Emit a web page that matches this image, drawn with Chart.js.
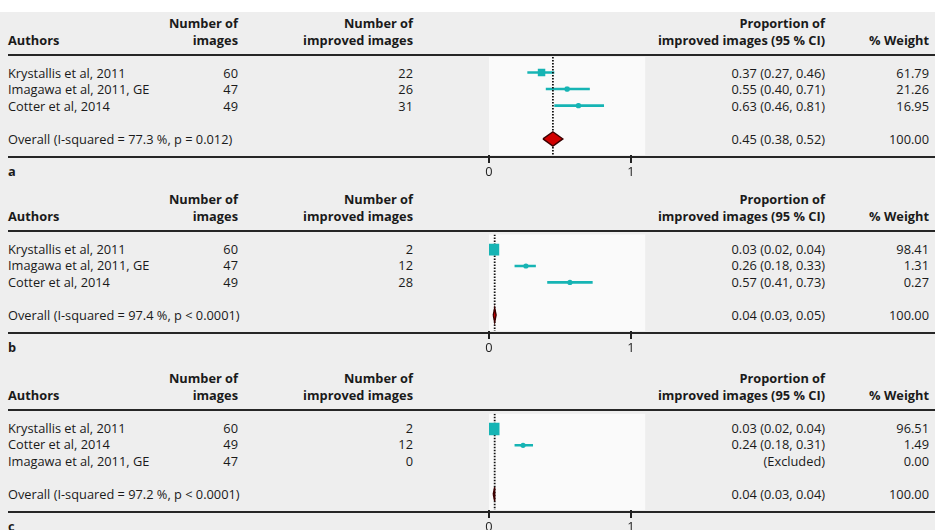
<!DOCTYPE html>
<html>
<head>
<meta charset="utf-8">
<script src="https://cdn.jsdelivr.net/npm/chart.js@4/dist/chart.umd.min.js"></script>
<style>
  html, body { margin: 0; padding: 0; width: 935px; height: 530px; overflow: hidden; background: #ffffff; }
  #sheet { position: absolute; left: 0; top: 12px; width: 935px; height: 518px; background: #eeeeee; }
  .t { position: absolute; white-space: nowrap; font-family: "Open Sans", sans-serif; font-size: 12.8px;
       line-height: 16px; color: #1a1a1a; }
  .b { font-weight: bold; }
  .rule { position: absolute; left: 8px; width: 927px; height: 2px; background: #262626; }
  canvas { position: absolute; }
</style>
</head>
<body>
<div id="sheet"></div>
<script>
// ---- data ----------------------------------------------------------------
const tickValues = [0, 1];
const panelLetters = ['a', 'b', 'c'];

// a) proportion of improved images
const authorsA  = ['Krystallis et al, 2011', 'Imagawa et al, 2011, GE', 'Cotter et al, 2014'];
const imagesA   = [60, 47, 49];
const improvedA = [22, 26, 31];
const propA     = [0.37, 0.55, 0.63];
const lowA      = [0.27, 0.40, 0.46];
const highA     = [0.46, 0.71, 0.81];
const weightA   = [61.79, 21.26, 16.95];
const overallA  = [0.45, 0.38, 0.52];          // estimate, lower, upper
const hetA      = 'Overall (I-squared = 77.3 %, p = 0.012)';

// b)
const authorsB  = ['Krystallis et al, 2011', 'Imagawa et al, 2011, GE', 'Cotter et al, 2014'];
const imagesB   = [60, 47, 49];
const improvedB = [2, 12, 28];
const propB     = [0.03, 0.26, 0.57];
const lowB      = [0.02, 0.18, 0.41];
const highB     = [0.04, 0.33, 0.73];
const weightB   = [98.41, 1.31, 0.27];
const overallB  = [0.04, 0.03, 0.05];
const hetB      = 'Overall (I-squared = 97.4 %, p < 0.0001)';

// c)
const authorsC  = ['Krystallis et al, 2011', 'Cotter et al, 2014', 'Imagawa et al, 2011, GE'];
const imagesC   = [60, 49, 47];
const improvedC = [2, 12, 0];
const propC     = [0.03, 0.24, null];
const lowC      = [0.02, 0.18, null];
const highC     = [0.04, 0.31, null];
const weightC   = [96.51, 1.49, 0.00];
const overallC  = [0.04, 0.03, 0.04];
const hetC      = 'Overall (I-squared = 97.2 %, p < 0.0001)';

// ---- layout --------------------------------------------------------------
const panels = [
  { authors: authorsA, images: imagesA, improved: improvedA, prop: propA, low: lowA, high: highA,
    weight: weightA, overall: overallA, het: hetA, off: 0,   boxK: 0.95 },
  { authors: authorsB, images: imagesB, improved: improvedB, prop: propB, low: lowB, high: highB,
    weight: weightB, overall: overallB, het: hetB, off: 176, boxK: 1.2 },
  { authors: authorsC, images: imagesC, improved: improvedC, prop: propC, low: lowC, high: highC,
    weight: weightC, overall: overallC, het: hetC, off: 355, boxK: 1.27 }
];

const W = 935;
const TEAL = '#16b4b4';
const ROW_Y = [72.5, 89.1, 105.7, 122.3, 138.9];   // row centres inside a panel
const OVERALL_ROW = 4;
const ROW_MIN = -0.93, ROW_MAX = 4.97;               // y-range of the plot region in row units
const DIAMOND_HALF = 0.43;

function addText(str, x, cy, align, bold) {
  const d = document.createElement('div');
  d.className = 't' + (bold ? ' b' : '');
  d.textContent = str;
  d.style.top = (cy - 8) + 'px';
  if (align === 'right') d.style.right = (W - x) + 'px';
  else d.style.left = x + 'px';
  document.body.appendChild(d);
}
function addRule(y) {
  const r = document.createElement('div');
  r.className = 'rule';
  r.style.top = y + 'px';
  document.body.appendChild(r);
}
const fmt = v => v.toFixed(2);

// light plot-region background
const plotBg = {
  id: 'plotBg',
  beforeDraw(chart) {
    const a = chart.chartArea, ctx = chart.ctx;
    ctx.save();
    ctx.fillStyle = '#fafafa';
    ctx.fillRect(a.left, a.top, a.right - a.left, a.bottom - a.top);
    ctx.restore();
  }
};

panels.forEach((p, k) => {
  const o = p.off;

  // header
  addText('Number of', 238, 23 + o, 'right', true);
  addText('images', 238, 40 + o, 'right', true);
  addText('Number of', 413, 23 + o, 'right', true);
  addText('improved images', 413, 40 + o, 'right', true);
  addText('Authors', 8, 40 + o, 'left', true);
  addText('Proportion of', 825, 23 + o, 'right', true);
  addText('improved images (95 % CI)', 825, 40 + o, 'right', true);
  addText('% Weight', 929, 40 + o, 'right', true);
  addRule(54 + o);

  // study rows
  p.authors.forEach((name, i) => {
    const cy = ROW_Y[i] + o;
    addText(name, 8, cy, 'left', false);
    addText(String(p.images[i]), 238, cy, 'right', false);
    addText(String(p.improved[i]), 413, cy, 'right', false);
    const est = p.prop[i] === null ? '(Excluded)'
      : fmt(p.prop[i]) + ' (' + fmt(p.low[i]) + ', ' + fmt(p.high[i]) + ')';
    addText(est, 825, cy, 'right', false);
    addText(fmt(p.weight[i]), 929, cy, 'right', false);
  });

  // overall row
  const [oe, ol, oh] = p.overall;
  addText(p.het, 8, ROW_Y[OVERALL_ROW] + o, 'left', false);
  addText(fmt(oe) + ' (' + fmt(ol) + ', ' + fmt(oh) + ')', 825, ROW_Y[OVERALL_ROW] + o, 'right', false);
  addText('100.00', 929, ROW_Y[OVERALL_ROW] + o, 'right', false);

  addRule(156 + o);
  addText(panelLetters[k], 8, 171 + o, 'left', true);

  // ---- forest plot ----
  const canvas = document.createElement('canvas');
  canvas.width = 200; canvas.height = 130;
  canvas.style.left = '470px';
  canvas.style.top = (50 + o) + 'px';
  canvas.style.width = '200px';
  canvas.style.height = '130px';
  document.body.appendChild(canvas);

  const datasets = [];
  const studies = p.prop.map((v, i) => ({ i, v })).filter(s => s.v !== null);

  // pooled estimate diamond
  datasets.push({
    data: [{ x: ol, y: OVERALL_ROW }, { x: oe, y: OVERALL_ROW - DIAMOND_HALF },
           { x: oh, y: OVERALL_ROW }, { x: oe, y: OVERALL_ROW + DIAMOND_HALF },
           { x: ol, y: OVERALL_ROW }],
    showLine: true, fill: 'shape', tension: 0,
    backgroundColor: '#d10000', borderColor: '#3c0000', borderWidth: 1.4, borderJoinStyle: 'miter',
    pointRadius: 0, order: 0
  });
  // point estimates
  datasets.push({
    data: studies.map(s => ({ x: s.v, y: s.i })),
    pointStyle: 'circle', pointRadius: 2.6, pointBackgroundColor: TEAL,
    pointBorderWidth: 0, showLine: false, order: 1
  });
  // weight boxes
  datasets.push({
    data: studies.map(s => ({ x: s.v, y: s.i, w: p.weight[s.i] })),
    pointStyle: 'rect',
    pointRadius: c => (p.boxK * Math.sqrt(c.raw.w)) / Math.SQRT2,
    pointBackgroundColor: TEAL, pointBorderWidth: 0, showLine: false, order: 2
  });
  // reference line at the pooled estimate
  datasets.push({
    data: [{ x: oe, y: ROW_MIN }, { x: oe, y: ROW_MAX }],
    showLine: true, borderColor: '#111111', borderWidth: 1.8, borderDash: [1.5, 1.5],
    pointRadius: 0, order: 3
  });
  // confidence intervals
  studies.forEach(s => {
    datasets.push({
      data: [{ x: p.low[s.i], y: s.i }, { x: p.high[s.i], y: s.i }],
      showLine: true, borderColor: TEAL, borderWidth: 2.6, borderCapStyle: 'butt',
      pointRadius: 0, order: 4
    });
  });

  new Chart(canvas, {
    type: 'scatter',
    data: { datasets },
    plugins: [plotBg],
    options: {
      responsive: false,
      animation: false,
      devicePixelRatio: 1,
      layout: { padding: { left: 19, right: 24.8, top: 7, bottom: 0 } },
      plugins: { legend: { display: false }, tooltip: { enabled: false } },
      scales: {
        x: {
          type: 'linear', min: 0, max: 1.1,
          afterBuildTicks: s => { s.ticks = tickValues.map(v => ({ value: v })); },
          afterFit: s => { s.height = 25; },
          grid: { drawOnChartArea: false, drawTicks: true, tickLength: 8, color: '#222', lineWidth: 2 },
          border: { display: false },
          ticks: { font: { family: 'Open Sans', size: 12.8 }, color: '#222', padding: 2,
                   maxRotation: 0, callback: v => String(v) }
        },
        y: { type: 'linear', reverse: true, min: ROW_MIN, max: ROW_MAX, display: false }
      }
    }
  });
});
</script>
</body>
</html>
